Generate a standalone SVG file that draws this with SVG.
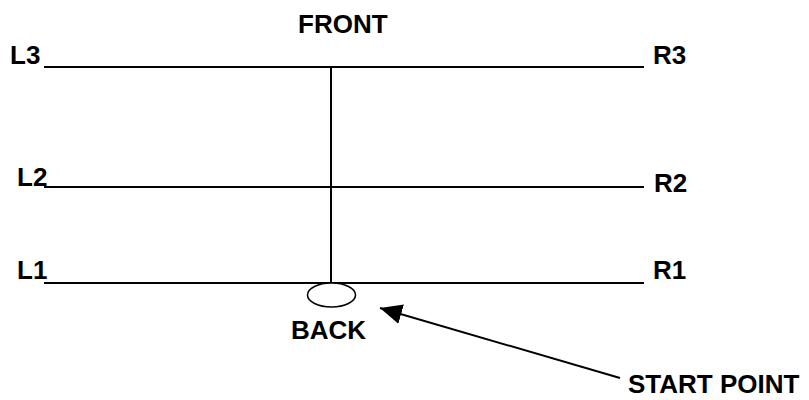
<svg xmlns="http://www.w3.org/2000/svg" width="809" height="400" viewBox="0 0 809 400">
<style>
.t{font-family:"Liberation Sans",Arial,sans-serif;font-weight:bold;font-size:26px;fill:#000}
.ln{stroke:#000;stroke-width:2;fill:none}
</style>
<defs>
<marker id="ah" markerUnits="userSpaceOnUse" markerWidth="24" markerHeight="20" refX="22" refY="10" orient="auto">
<path d="M0,0 L22,10 L0,20 Z" fill="#000"/>
</marker>
</defs>
<rect width="809" height="400" fill="#fff"/>
<g id="connectors">
<line class="ln" x1="44" y1="67" x2="644" y2="67"/>
<line class="ln" x1="44" y1="187" x2="644" y2="187"/>
<line class="ln" x1="44" y1="283" x2="644" y2="283"/>
<line class="ln" x1="331" y1="67" x2="331" y2="283"/>
<line class="ln" x1="620" y1="378" x2="380" y2="308" marker-end="url(#ah)"/>
</g>
<g id="front"><text class="t" x="298" y="33">FRONT</text></g>
<g id="L3"><text class="t" x="10" y="64">L3</text></g>
<g id="R3"><text class="t" x="653" y="64">R3</text></g>
<g id="L2"><text class="t" x="17" y="186">L2</text></g>
<g id="R2"><text class="t" x="654" y="192">R2</text></g>
<g id="L1"><text class="t" x="17" y="279">L1</text></g>
<g id="R1"><text class="t" x="653" y="279">R1</text></g>
<g id="back">
<ellipse cx="331.5" cy="295" rx="24" ry="12" fill="#fff" stroke="#000" stroke-width="1.5"/>
<text class="t" x="291" y="339">BACK</text>
</g>
<g id="start"><text class="t" x="628" y="393">START POINT</text></g>
</svg>
